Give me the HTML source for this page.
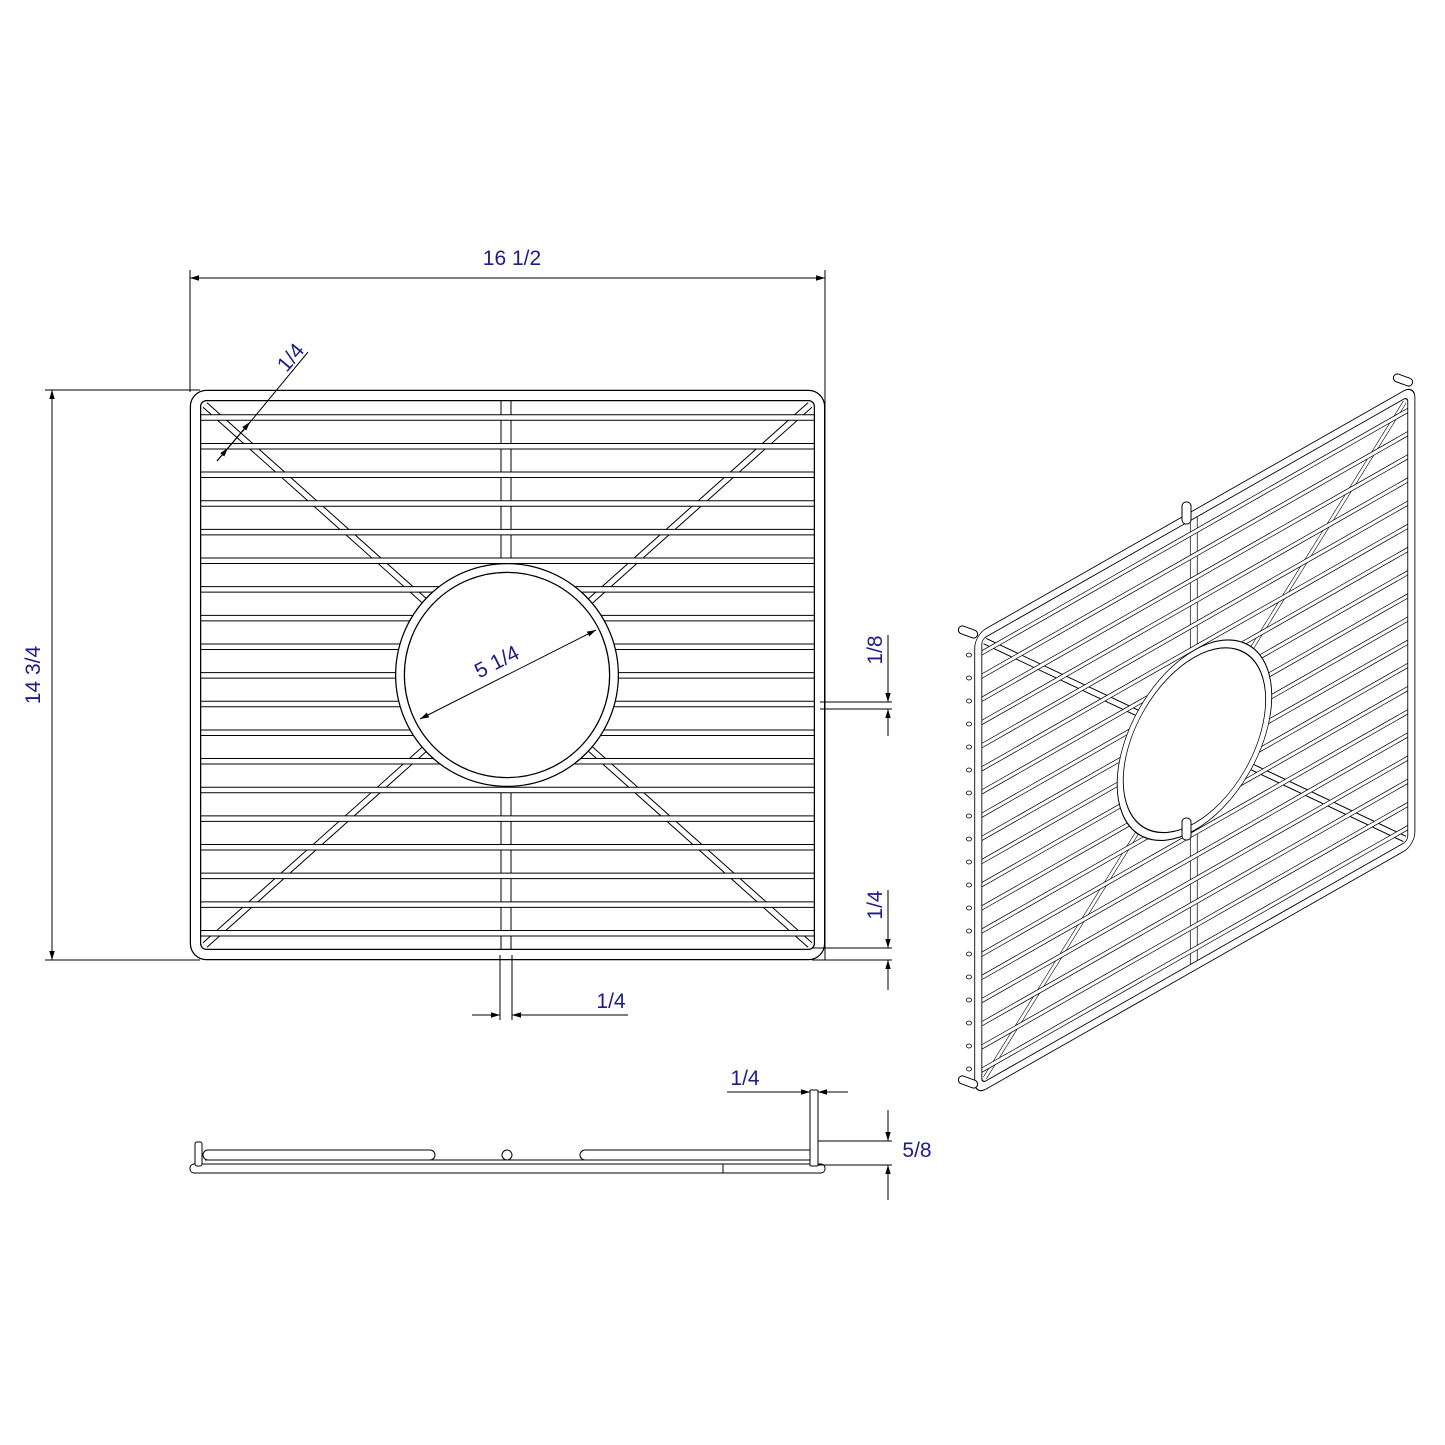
<!DOCTYPE html>
<html><head><meta charset="utf-8"><style>
html,body{margin:0;padding:0;background:#fff}
svg{display:block}
text{font-family:"Liberation Sans",sans-serif;fill:#1c1c8a;font-size:21px}
</style></head><body>
<svg width="1445" height="1445" viewBox="0 0 1445 1445" xmlns="http://www.w3.org/2000/svg">
<defs>
<marker id="ar" viewBox="0 0 10 10" refX="10" refY="5" markerWidth="9" markerHeight="9" orient="auto-start-reverse" markerUnits="userSpaceOnUse"><path d="M0,2 L10,5 L0,8 z" fill="#000"/></marker>
<g id="grid">
 <g fill="none" stroke-linecap="butt">
  <g stroke="#000" stroke-width="7" vector-effect="non-scaling-stroke">
   <line x1="205" y1="405" x2="810" y2="945"/><line x1="810" y1="405" x2="205" y2="945"/>
  </g>
  <g stroke="#fff" stroke-width="5">
   <line x1="205" y1="405" x2="810" y2="945"/><line x1="810" y1="405" x2="205" y2="945"/>
  </g>
  <line x1="506" y1="400" x2="506" y2="950" stroke="#000" stroke-width="11"/>
  <line x1="506" y1="400" x2="506" y2="950" stroke="#fff" stroke-width="9"/>
  <g id="bars">
   <g stroke="#000" stroke-width="6.5">
    <line x1="200" x2="815" y1="417.5" y2="417.5"/><line x1="200" x2="815" y1="446.2" y2="446.2"/><line x1="200" x2="815" y1="474.8" y2="474.8"/><line x1="200" x2="815" y1="503.5" y2="503.5"/><line x1="200" x2="815" y1="532.1" y2="532.1"/><line x1="200" x2="815" y1="560.8" y2="560.8"/><line x1="200" x2="815" y1="589.4" y2="589.4"/><line x1="200" x2="815" y1="618.1" y2="618.1"/><line x1="200" x2="815" y1="646.7" y2="646.7"/><line x1="200" x2="815" y1="675.4" y2="675.4"/><line x1="200" x2="815" y1="704" y2="704"/><line x1="200" x2="815" y1="732.7" y2="732.7"/><line x1="200" x2="815" y1="761.3" y2="761.3"/><line x1="200" x2="815" y1="790" y2="790"/><line x1="200" x2="815" y1="818.6" y2="818.6"/><line x1="200" x2="815" y1="847.3" y2="847.3"/><line x1="200" x2="815" y1="875.9" y2="875.9"/><line x1="200" x2="815" y1="904.6" y2="904.6"/><line x1="200" x2="815" y1="933.2" y2="933.2"/>
   </g>
   <g stroke="#fff" stroke-width="4.5">
    <line x1="200" x2="815" y1="417.5" y2="417.5"/><line x1="200" x2="815" y1="446.2" y2="446.2"/><line x1="200" x2="815" y1="474.8" y2="474.8"/><line x1="200" x2="815" y1="503.5" y2="503.5"/><line x1="200" x2="815" y1="532.1" y2="532.1"/><line x1="200" x2="815" y1="560.8" y2="560.8"/><line x1="200" x2="815" y1="589.4" y2="589.4"/><line x1="200" x2="815" y1="618.1" y2="618.1"/><line x1="200" x2="815" y1="646.7" y2="646.7"/><line x1="200" x2="815" y1="675.4" y2="675.4"/><line x1="200" x2="815" y1="704" y2="704"/><line x1="200" x2="815" y1="732.7" y2="732.7"/><line x1="200" x2="815" y1="761.3" y2="761.3"/><line x1="200" x2="815" y1="790" y2="790"/><line x1="200" x2="815" y1="818.6" y2="818.6"/><line x1="200" x2="815" y1="847.3" y2="847.3"/><line x1="200" x2="815" y1="875.9" y2="875.9"/><line x1="200" x2="815" y1="904.6" y2="904.6"/><line x1="200" x2="815" y1="933.2" y2="933.2"/>
   </g>
  </g>
  <circle cx="507" cy="675" r="107" fill="#fff" stroke="#000" stroke-width="10"/>
  <circle cx="507" cy="675" r="107" fill="none" stroke="#fff" stroke-width="7.5"/>
  <rect x="195.5" y="395.5" width="624" height="559" rx="11" stroke="#000" stroke-width="11.5"/>
  <rect x="195.5" y="395.5" width="624" height="559" rx="11" stroke="#fff" stroke-width="9"/>
 </g>
</g>
</defs>

<use href="#grid"/>

<!-- dimensions front -->
<g stroke="#000" stroke-width="1" fill="none">
 <line x1="190" y1="270" x2="190" y2="392"/>
 <line x1="825" y1="270" x2="825" y2="960"/>
 <line x1="190" y1="278" x2="825" y2="278" marker-start="url(#ar)" marker-end="url(#ar)"/>
 <line x1="45" y1="390" x2="200" y2="390"/>
 <line x1="45" y1="960" x2="200" y2="960"/>
 <line x1="52" y1="390" x2="52" y2="960" marker-start="url(#ar)" marker-end="url(#ar)"/>
 <line x1="217" y1="461" x2="250" y2="422" marker-end="url(#ar)"/>
 <line x1="308" y1="352" x2="242" y2="432"/>
 <line x1="240" y1="434" x2="229" y2="447"/>
 <line x1="228" y1="448" x2="217" y2="461" marker-start="url(#ar)"/>
 <line x1="420" y1="719" x2="596" y2="630" marker-start="url(#ar)" marker-end="url(#ar)"/>
 <line x1="820" y1="702" x2="892" y2="702"/>
 <line x1="820" y1="709" x2="892" y2="709"/>
 <line x1="888" y1="635" x2="888" y2="702" marker-end="url(#ar)"/>
 <line x1="888" y1="736" x2="888" y2="709" marker-end="url(#ar)"/>
 <line x1="812" y1="948" x2="892" y2="948"/>
 <line x1="812" y1="960" x2="892" y2="960"/>
 <line x1="888" y1="890" x2="888" y2="948" marker-end="url(#ar)"/>
 <line x1="888" y1="990" x2="888" y2="960" marker-end="url(#ar)"/>
 <line x1="500" y1="955" x2="500" y2="1020"/>
 <line x1="512" y1="955" x2="512" y2="1020"/>
 <line x1="472" y1="1015" x2="500" y2="1015" marker-end="url(#ar)"/>
 <line x1="628" y1="1015" x2="512" y2="1015" marker-end="url(#ar)"/>
</g>
<text x="512" y="265" text-anchor="middle">16 1/2</text>
<text transform="translate(40,675) rotate(-90)" text-anchor="middle">14 3/4</text>
<text transform="translate(296,362) rotate(-50)" text-anchor="middle">1/4</text>
<text transform="translate(500,668) rotate(-27)" text-anchor="middle">5 1/4</text>
<text transform="translate(882,650) rotate(-90)" text-anchor="middle">1/8</text>
<text transform="translate(882,905) rotate(-90)" text-anchor="middle">1/4</text>
<text x="611" y="1008" text-anchor="middle">1/4</text>

<!-- side view -->
<g stroke="#000" stroke-width="1" fill="#fff">
 <rect x="190" y="1164" width="635" height="9" rx="4"/>
 <line x1="723" y1="1164" x2="723" y2="1173"/>
 <line x1="205" y1="1160" x2="815" y2="1160"/>
 <rect x="203" y="1150" width="232" height="10" rx="5"/>
 <rect x="580" y="1150" width="235" height="10" rx="5"/>
 <circle cx="507" cy="1155" r="5"/>
 <rect x="195" y="1142" width="7" height="24" rx="2"/>
 <rect x="810" y="1090" width="8" height="76" rx="1"/>
 <line x1="818" y1="1141" x2="892" y2="1141"/>
 <line x1="818" y1="1165" x2="892" y2="1165"/>
 <line x1="727" y1="1092" x2="810" y2="1092" marker-end="url(#ar)"/>
 <line x1="848" y1="1092" x2="818" y2="1092" marker-end="url(#ar)"/>
 <line x1="888" y1="1110" x2="888" y2="1141" marker-end="url(#ar)"/>
 <line x1="888" y1="1200" x2="888" y2="1165" marker-end="url(#ar)"/>
</g>
<text x="745" y="1085" text-anchor="middle">1/4</text>
<text x="917" y="1157" text-anchor="middle">5/8</text>

<!-- iso view -->
<use href="#grid" transform="matrix(0.694,-0.395,0,0.809,842.6,394.4)"/>
<g stroke="#000" stroke-width="1" fill="#fff">
 <rect x="1182" y="502" width="9" height="22" rx="4"/>
 <rect x="1182" y="818" width="9" height="22" rx="4"/>
 <rect x="958" y="628" width="20" height="8" rx="4" transform="rotate(20 968 632)"/>
 <rect x="958" y="1078" width="20" height="8" rx="4" transform="rotate(20 968 1082)"/>
 <rect x="1393" y="376" width="20" height="8" rx="4" transform="rotate(20 1403 380)"/>
</g>
<g fill="#fff" stroke="#000" stroke-width="0.8">
 <ellipse cx="969" cy="655" rx="2.5" ry="2"/><ellipse cx="969" cy="678" rx="2.5" ry="2"/><ellipse cx="969" cy="701" rx="2.5" ry="2"/><ellipse cx="969" cy="724" rx="2.5" ry="2"/><ellipse cx="969" cy="747" rx="2.5" ry="2"/><ellipse cx="969" cy="770" rx="2.5" ry="2"/><ellipse cx="969" cy="793" rx="2.5" ry="2"/><ellipse cx="969" cy="816" rx="2.5" ry="2"/><ellipse cx="969" cy="839" rx="2.5" ry="2"/><ellipse cx="969" cy="862" rx="2.5" ry="2"/><ellipse cx="969" cy="885" rx="2.5" ry="2"/><ellipse cx="969" cy="908" rx="2.5" ry="2"/><ellipse cx="969" cy="931" rx="2.5" ry="2"/><ellipse cx="969" cy="954" rx="2.5" ry="2"/><ellipse cx="969" cy="977" rx="2.5" ry="2"/><ellipse cx="969" cy="1000" rx="2.5" ry="2"/><ellipse cx="969" cy="1023" rx="2.5" ry="2"/><ellipse cx="969" cy="1046" rx="2.5" ry="2"/><ellipse cx="969" cy="1069" rx="2.5" ry="2"/>
</g>
</svg>
</body></html>
